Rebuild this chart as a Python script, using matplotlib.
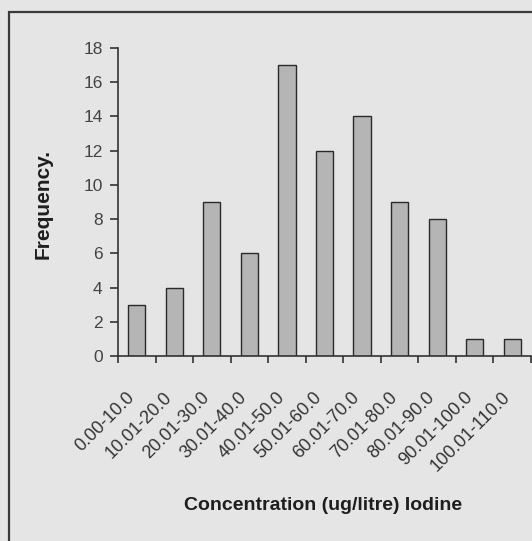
import matplotlib
matplotlib.use("Agg")
import matplotlib.pyplot as plt
from matplotlib.patches import Rectangle
from matplotlib.transforms import ScaledTranslation

categories = ["0.00-10.0", "10.01-20.0", "20.01-30.0", "30.01-40.0", "40.01-50.0",
              "50.01-60.0", "60.01-70.0", "70.01-80.0", "80.01-90.0", "90.01-100.0",
              "100.01-110.0"]
frequency = [3, 4, 9, 6, 17, 12, 14, 9, 8, 1, 1]
y_ticks = [0, 2, 4, 6, 8, 10, 12, 14, 16, 18]

plt.rcParams['font.family'] = ['Liberation Sans', 'DejaVu Sans']

W, H = 532, 541
fig = plt.figure(figsize=(W / 100, H / 100), dpi=100)
fig.patch.set_facecolor('#e5e5e5')

# outer chart border
fig.patches.append(Rectangle((9 / W, -0.05), 1.1, 1 - 12 / H + 0.05, transform=fig.transFigure,
                             fill=False, edgecolor='#3a3a3a', linewidth=1.6))

ax = fig.add_axes([118 / W, 1 - 356 / H, (531 - 118) / W, (356 - 48) / H])
ax.set_facecolor('none')

x = list(range(len(categories)))
ax.bar(x, frequency, width=0.46, color='#b5b5b5', edgecolor='#2a2a2a', linewidth=1.0)

ax.set_xlim(-0.5, len(categories) - 0.5)
ax.set_ylim(0, 18)
ax.set_yticks(y_ticks)
ax.set_yticklabels([str(v) for v in y_ticks])

ax.set_xticks([i - 0.5 for i in range(len(categories) + 1)])
ax.set_xticklabels([])
ax.set_xticks(x, minor=True)
ax.set_xticklabels(categories, minor=True, rotation=45, ha='right', va='center',
                   rotation_mode='anchor')
ax.tick_params(axis='x', which='minor', length=0, pad=28, labelsize=13, labelcolor='#333333')
ax.tick_params(axis='x', which='major', length=5, width=1.2, color='#333333', direction='out')
ax.tick_params(axis='y', length=6, width=1.2, color='#333333', direction='out', pad=5,
               labelsize=12.5, labelcolor='#444444')
shift = ScaledTranslation(-0.05, 0, fig.dpi_scale_trans)
for lab in ax.get_xticklabels(minor=True):
    lab.set_transform(lab.get_transform() + shift)

for s in ['top', 'right']:
    ax.spines[s].set_visible(False)
for s in ['left', 'bottom']:
    ax.spines[s].set_color('#333333')
    ax.spines[s].set_linewidth(1.2)

fig.text(43 / W, 1 - 204 / H, "Frequency.", rotation=90, ha='center', va='center',
         fontsize=15, fontweight='bold', color='#1e1e1e')
fig.text(323 / W, 1 - 505 / H, "Concentration (ug/litre) Iodine", ha='center', va='center',
         fontsize=14, fontweight='bold', color='#1e1e1e')

fig.savefig("out.png", dpi=100, facecolor=fig.get_facecolor())
